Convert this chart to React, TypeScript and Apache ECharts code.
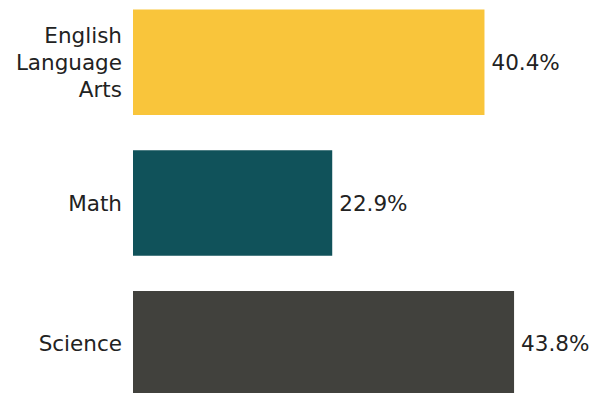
import React, { useEffect, useRef } from "react";
import * as echarts from "echarts";

const categories = ["English\nLanguage\nArts", "Math", "Science"];
const values = [40.4, 22.9, 43.8];

const BAR_COLORS = ["#F9C53B", "#10525A", "#41413D"];
const FONT = "DejaVu Sans";

export default function App() {
  const ref = useRef<HTMLDivElement>(null);
  useEffect(() => {
    if (!ref.current) return;
    const chart = echarts.init(ref.current, undefined, { renderer: "svg" });
    chart.setOption({
      animation: false,
      backgroundColor: "#ffffff",
      grid: { left: 133, right: 24, top: 0, bottom: 0, containLabel: false },
      xAxis: { type: "value", min: 0, max: 50, show: false },
      yAxis: {
        type: "category",
        inverse: true,
        data: categories,
        axisLine: { show: false },
        axisTick: { show: false },
        splitLine: { show: false },
        axisLabel: {
          margin: 11,
          fontSize: 21.5,
          lineHeight: 27,
          color: "#222222",
          fontFamily: FONT,
          align: "right",
        },
      },
      series: [
        {
          type: "bar",
          barCategoryGap: "25%",
          data: values.map((v, i) => ({ value: v, itemStyle: { color: BAR_COLORS[i] } })),
          label: {
            show: true,
            position: "right",
            distance: 7,
            fontSize: 21.5,
            color: "#222222",
            fontFamily: FONT,
            formatter: (p: any) => `${Number(p.value).toFixed(1)}%`,
          },
        },
      ],
    });
    return () => chart.dispose();
  }, []);
  return (
    <div
      ref={ref}
      style={{ position: "fixed", left: 0, top: -8, width: 592, height: 422 }}
    />
  );
}
